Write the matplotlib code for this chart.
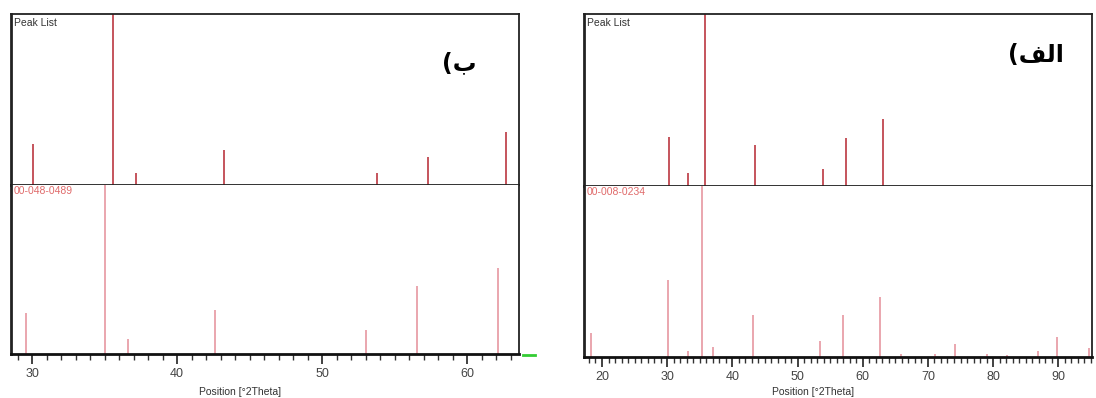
import matplotlib
matplotlib.use("Agg")
import matplotlib.pyplot as plt
from matplotlib.lines import Line2D
from matplotlib.ticker import MultipleLocator

plt.rcParams['font.family'] = ['Liberation Sans', 'DejaVu Sans']

# panel "b" (left): measured peak list and reference card 00-048-0489
b_peak_pos = [30.1, 35.6, 37.15, 43.2, 53.8, 57.3, 62.7]
b_peak_int = [24, 100, 7, 20.5, 7, 16.5, 31]
b_ref_pos = [29.6, 35.0, 36.65, 42.6, 53.0, 56.55, 62.15]
b_ref_int = [24, 100, 9, 26, 14, 40, 51]

# panel "alef" (right): measured peak list and reference card 00-008-0234
a_peak_pos = [30.26, 33.17, 35.78, 43.4, 53.97, 57.45, 63.1]
a_peak_int = [28.7, 7.7, 100, 23.6, 10, 28, 38.8]
a_ref_pos = [18.3, 30.16, 33.2, 35.4, 37.1, 43.1, 53.5, 57.0, 62.6,
             65.9, 71.1, 74.1, 79.0, 82.1, 86.9, 89.85, 94.7]
a_ref_int = [13.7, 45, 3.3, 100, 5.5, 24.6, 9.2, 24.6, 34.8,
             1.5, 1.5, 7.6, 1.5, 1.0, 3.5, 11.4, 5.3]

peak_color = '#c0474f'
ref_color = '#e48e98'
ref_label_color = '#e06a6a'

W, H = 1096, 398
fig = plt.figure(figsize=(W / 100, H / 100), dpi=100)


def px_axes(x0, y0, x1, y1):
    # pixel box (top-left origin) -> figure fraction axes
    return fig.add_axes([x0 / W, 1 - y1 / H, (x1 - x0) / W, (y1 - y0) / H])


def panel(box, xlim, peak_pos, peak_int, ref_pos, ref_int, card, tag, tag_xy, xlabel_x):
    x0, y0, ymid, x1, y1 = box
    top = px_axes(x0, y0, x1, ymid)
    bot = px_axes(x0, ymid, x1, y1)

    top.vlines(peak_pos, 0, peak_int, color=peak_color, lw=1.3)
    bot.vlines(ref_pos, 0, ref_int, color=ref_color, lw=1.1)

    for ax in (top, bot):
        ax.set_xlim(*xlim)
        ax.set_ylim(0, 100)
        ax.set_yticks([])
        for s in ax.spines.values():
            s.set_color('#222222')
            s.set_linewidth(1.3)
        ax.spines['left'].set_linewidth(2.0)
    top.set_xticks([])
    bot.spines['top'].set_visible(False)
    bot.spines['bottom'].set_linewidth(2.0)
    bot.spines['bottom'].set_color('#111111')

    bot.xaxis.set_major_locator(MultipleLocator(10))
    bot.xaxis.set_minor_locator(MultipleLocator(1))
    bot.tick_params(axis='x', which='major', direction='out', length=7, width=1.3,
                    color='#333333', labelsize=9, labelcolor='#444444', pad=3)
    bot.tick_params(axis='x', which='minor', direction='out', length=4, width=1.0,
                    color='#333333')

    top.text(0.006, 0.975, 'Peak List', transform=top.transAxes, ha='left', va='top',
             fontsize=7.5, color='#333333')
    bot.text(0.006, 0.995, card, transform=bot.transAxes, ha='left', va='top',
             fontsize=7.5, color=ref_label_color)

    fig.text(tag_xy[0] / W, 1 - tag_xy[1] / H, tag, ha='right', va='center',
             fontsize=17, fontweight='bold', family=['DejaVu Sans'], color='black')
    fig.text(xlabel_x / W, 1 - 392 / H, 'Position [°2Theta]', ha='center', va='center',
             fontsize=7.5, color='#333333')


# Arabic labels given in visual order with presentation forms: "ب)" and "الف)"
tag_b = '(' + '\uFE8F'
tag_alef = '(' + '\uFED2\uFEDF\uFE8D'

panel((11, 14, 185, 518.7, 354), (28.55, 63.55), b_peak_pos, b_peak_int,
      b_ref_pos, b_ref_int, '00-048-0489', tag_b, (476, 63), 240)
panel((584, 14, 186, 1092, 356.7), (17.24, 95.17), a_peak_pos, a_peak_int,
      a_ref_pos, a_ref_int, '00-008-0234', tag_alef, (1064, 55), 813)

# small green marker to the right of the left panel axis
fig.add_artist(Line2D([522.7 / W, 535 / W], [1 - 354.7 / H, 1 - 354.7 / H],
                      color='#33cc33', lw=2))

fig.savefig('out.png', dpi=100)
